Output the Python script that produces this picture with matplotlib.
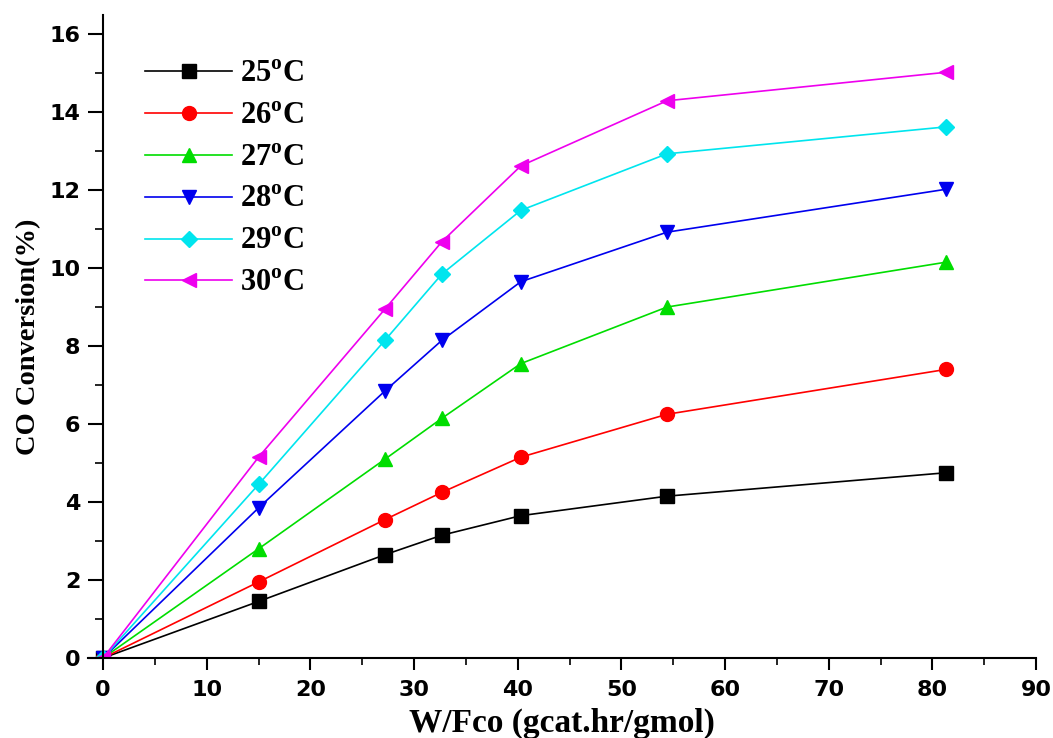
import matplotlib
matplotlib.use("Agg")
import matplotlib.pyplot as plt
from matplotlib.ticker import MultipleLocator

plt.rcParams['mathtext.fontset'] = 'custom'
plt.rcParams['mathtext.rm'] = 'Liberation Serif:bold'
plt.rcParams['mathtext.bf'] = 'Liberation Serif:bold'

x = [0, 15.0, 27.2, 32.7, 40.3, 54.4, 81.3]
labels = ["25", "26", "27", "28", "29", "30"]
y25 = [0, 1.45, 2.65, 3.15, 3.65, 4.15, 4.75]
y26 = [0, 1.95, 3.55, 4.25, 5.15, 6.25, 7.40]
y27 = [0, 2.80, 5.10, 6.15, 7.55, 9.00, 10.15]
y28 = [0, 3.85, 6.85, 8.15, 9.65, 10.92, 12.02]
y29 = [0, 4.45, 8.15, 9.85, 11.48, 12.93, 13.62]
y30 = [0, 5.15, 8.95, 10.68, 12.62, 14.29, 15.02]
series = [y25, y26, y27, y28, y29, y30]
colors = ["#000000", "#FF0000", "#00DD00", "#0000EE", "#00E5EE", "#EE00EE"]
markers = ["s", "o", "^", "v", "D", "<"]
msizes = [9.5, 10, 10, 10, 8.5, 10]

fig = plt.figure(figsize=(10.53, 7.38), dpi=100)
ax = fig.add_axes([0.0831, 0.1084, 0.9008, 0.8713])
for ys, c, m, ms, lab in zip(series, colors, markers, msizes, labels):
    ax.plot(x, ys, color=c, marker=m, markersize=ms, linewidth=1.2,
            label=lab + r"$^{\rm o}$C")

ax.set_xlim(-1.5, 90)
ax.set_ylim(0, 16.49)
ax.spines['top'].set_visible(False)
ax.spines['right'].set_visible(False)
ax.spines['left'].set_position(('data', 0))
for s in ['left', 'bottom']:
    ax.spines[s].set_linewidth(1.5)
ax.xaxis.set_major_locator(MultipleLocator(10))
ax.xaxis.set_minor_locator(MultipleLocator(5))
ax.yaxis.set_major_locator(MultipleLocator(2))
ax.yaxis.set_minor_locator(MultipleLocator(1))
ax.tick_params(axis='x', which='major', direction='out', length=8.5, width=1.5, pad=7)
ax.tick_params(axis='x', which='minor', direction='out', length=5, width=1.2)
ax.tick_params(axis='y', which='major', direction='out', length=10.5, width=1.5, pad=6)
ax.tick_params(axis='y', which='minor', direction='out', length=5.8, width=1.2)
for t in ax.get_xticklabels() + ax.get_yticklabels():
    t.set_fontfamily('DejaVu Sans')
    t.set_fontweight('bold')
    t.set_fontsize(16)

ax.set_xlabel("W/Fco (gcat.hr/gmol)", fontfamily='Liberation Serif',
              fontweight='bold', fontsize=24, labelpad=6)
ax.set_ylabel("CO Conversion(%)", fontfamily='Liberation Serif',
              fontweight='bold', fontsize=20.5, labelpad=6)

leg = ax.legend(loc='upper left', bbox_to_anchor=(0.0606, 0.930), frameon=False,
                borderaxespad=0, borderpad=0,
                prop={'family': 'Liberation Serif', 'weight': 'bold', 'size': 22},
                handlelength=2.85, handletextpad=0.25, labelspacing=0.42)

fig.savefig("out.png", dpi=100)
